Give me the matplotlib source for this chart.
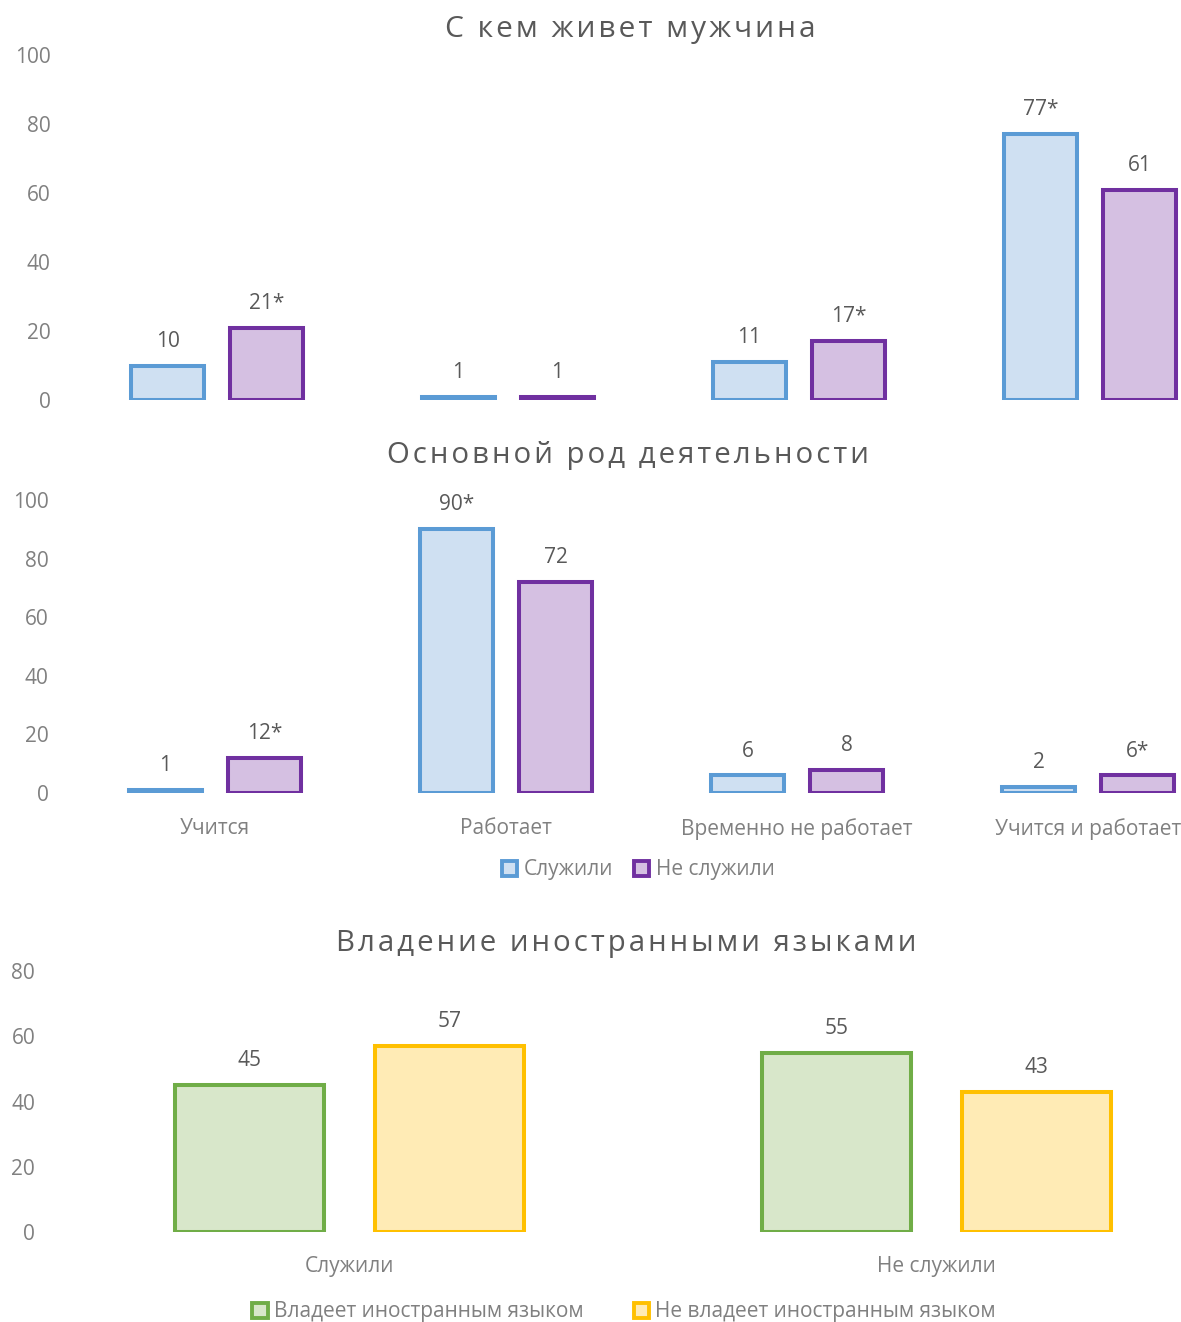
import numpy as np
import matplotlib.pyplot as plt
from matplotlib.patches import Patch

plt.rcParams['font.family'] = ['Open Sans', 'DejaVu Sans']

# --- data ---
live_cats = ["", "", "", ""]
live_served = [10, 1, 11, 77]
live_not_served = [21, 1, 17, 61]
live_lbl_served = ["10", "1", "11", "77*"]
live_lbl_not = ["21*", "1", "17*", "61"]

act_cats = ["Учится", "Работает", "Временно не работает", "Учится и работает"]
act_served = [1, 90, 6, 2]
act_not_served = [12, 72, 8, 6]
act_lbl_served = ["1", "90*", "6", "2"]
act_lbl_not = ["12*", "72", "8", "6*"]

lang_cats = ["Служили", "Не служили"]
lang_yes = [45, 55]
lang_no = [57, 43]
lang_lbl_yes = ["45", "55"]
lang_lbl_no = ["57", "43"]

W, H = 1181, 1322
BLUE, BLUE_F = "#5B9BD5", "#CFE0F2"
PURP, PURP_F = "#7030A0", "#D5C0E2"
GREEN, GREEN_F = "#70AD47", "#D8E7CA"
YEL, YEL_F = "#FFC000", "#FFEBB5"
TICK_C = "#808080"
LAB_C = "#595959"
TITLE_C = "#595959"
FS = 15

fig = plt.figure(figsize=(W / 100, H / 100), dpi=100)


def spaced(s):
    # excel titles are letter-spaced, fake it with hair spaces
    return "\u200a".join(s)


def make_ax(left, right, y0, ytop):
    # pixel coords -> figure fraction
    return fig.add_axes([left / W, (H - y0) / H, (right - left) / W, (y0 - ytop) / H])


def style(ax, ymax, step):
    ax.set_ylim(0, ymax)
    ax.set_yticks(np.arange(0, ymax + 1, step))
    for s in ax.spines.values():
        s.set_visible(False)
    ax.tick_params(axis='both', length=0, colors=TICK_C, labelsize=FS)
    ax.tick_params(axis='y', pad=15)
    ax.tick_params(axis='x', pad=18)
    ax.patch.set_alpha(0)


def pair(ax, cats, a, b, la, lb, ca, fa, cb, fb):
    x = np.arange(len(cats))
    w = 0.254
    off = 0.17
    r1 = ax.bar(x - off, a, w, color=fa, edgecolor=ca, linewidth=2.9)
    r2 = ax.bar(x + off, b, w, color=fb, edgecolor=cb, linewidth=2.9)
    ax.bar_label(r1, labels=la, padding=10, color=LAB_C, fontsize=FS)
    ax.bar_label(r2, labels=lb, padding=10, color=LAB_C, fontsize=FS)
    ax.set_xticks(x)
    ax.set_xticklabels(cats)
    ax.set_xlim(-0.5, len(cats) - 0.5)


# top panel
ax1 = make_ax(71.5, 1235.5, 400, 55)
pair(ax1, live_cats, live_served, live_not_served, live_lbl_served, live_lbl_not,
     BLUE, BLUE_F, PURP, PURP_F)
style(ax1, 100, 20)
fig.text(630 / W, 1 - 29 / H, spaced("С кем живет мужчина"), ha='center', va='center',
         fontsize=21.5, color=TITLE_C)

# middle panel
ax2 = make_ax(69.5, 1233.5, 793, 500)
pair(ax2, act_cats, act_served, act_not_served, act_lbl_served, act_lbl_not,
     BLUE, BLUE_F, PURP, PURP_F)
style(ax2, 100, 20)
fig.text(628 / W, 1 - 456 / H, spaced("Основной род деятельности"), ha='center', va='center',
         fontsize=21.2, color=TITLE_C)
h2 = [Patch(facecolor=BLUE_F, edgecolor=BLUE, linewidth=2.8, label="Служили"),
      Patch(facecolor=PURP_F, edgecolor=PURP, linewidth=2.8, label="Не служили")]
fig.legend(handles=h2, loc='center', bbox_to_anchor=(638 / W, 1 - 870 / H), ncol=2,
           frameon=False, handlelength=0.75, handleheight=0.75, handletextpad=0.3,
           columnspacing=1.0, labelcolor=TICK_C, fontsize=FS)

# bottom panel
ax3 = make_ax(56, 1230, 1232, 971)
pair(ax3, lang_cats, lang_yes, lang_no, lang_lbl_yes, lang_lbl_no,
     GREEN, GREEN_F, YEL, YEL_F)
style(ax3, 80, 20)
ax3.tick_params(axis='x', pad=17)
fig.text(626 / W, 1 - 943 / H, spaced("Владение иностранными языками"), ha='center', va='center',
         fontsize=21.2, color=TITLE_C)
h3 = [Patch(facecolor=GREEN_F, edgecolor=GREEN, linewidth=2.8, label="Владеет иностранным языком"),
      Patch(facecolor=YEL_F, edgecolor=YEL, linewidth=2.8, label="Не владеет иностранным языком")]
fig.legend(handles=h3, loc='center', bbox_to_anchor=(624 / W, 1 - 1312 / H), ncol=2,
           frameon=False, handlelength=0.75, handleheight=0.75, handletextpad=0.3,
           columnspacing=2.4, labelcolor=TICK_C, fontsize=FS)

fig.savefig("out.png", dpi=100)
